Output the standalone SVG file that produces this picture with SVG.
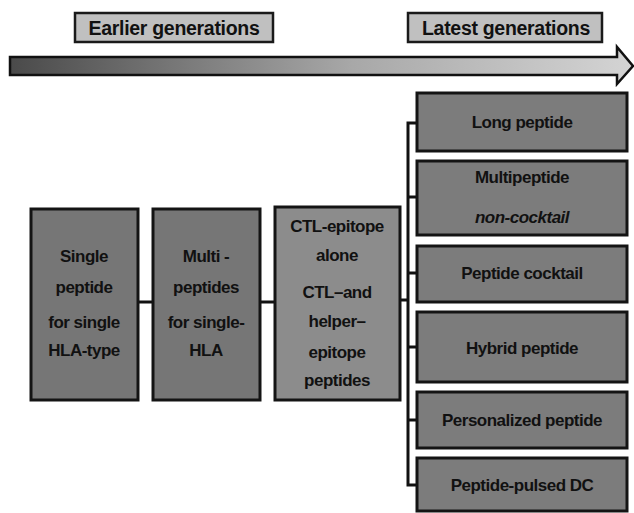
<svg xmlns="http://www.w3.org/2000/svg" width="634" height="513" viewBox="0 0 634 513">
<defs>
<linearGradient id="arrowGrad" x1="0" y1="0" x2="1" y2="0">
<stop offset="0" stop-color="#4a4a4a"/>
<stop offset="0.55" stop-color="#a8a8a8"/>
<stop offset="1" stop-color="#d4d4d4"/>
</linearGradient>
<style>
.hdr{fill:#c0c0c0;stroke:#1a1a1a;stroke-width:2.5}
.box{fill:#767676;stroke:#141414;stroke-width:3}
.box3{fill:#8c8c8c;stroke:#141414;stroke-width:3}
.rbox{fill:#7c7c7c;stroke:#141414;stroke-width:3}
text{font-family:"Liberation Sans",Arial,sans-serif;font-weight:bold;fill:#111;text-anchor:middle;dominant-baseline:central}
.ht{font-size:19.5px;letter-spacing:-0.3px}
.t{font-size:17px;letter-spacing:-0.5px}
.conn{stroke:#111;stroke-width:3;fill:none}
</style>
</defs>
<rect width="634" height="513" fill="#fff"/>
<g id="earlier"><rect class="hdr" x="75" y="13" width="198" height="29"/><text class="ht" x="174" y="28">Earlier generations</text></g>
<g id="latest"><rect class="hdr" x="408" y="13" width="194" height="29"/><text class="ht" x="506" y="28">Latest generations</text></g>
<g id="timeline"><polygon points="10,57 617,57 617,47 633,66 617,84 617,75 10,75" fill="url(#arrowGrad)" stroke="#111" stroke-width="2.5" stroke-linejoin="miter"/></g>
<g id="connectors">
<line class="conn" x1="138" y1="302" x2="153" y2="302"/>
<line class="conn" x1="260" y1="302" x2="275" y2="302"/>
<line class="conn" x1="400" y1="300" x2="408" y2="300"/>
<polyline class="conn" points="417,123 408,123 408,485 417,485"/>
<line class="conn" x1="408" y1="197" x2="417" y2="197"/>
<line class="conn" x1="408" y1="273" x2="417" y2="273"/>
<line class="conn" x1="408" y1="347" x2="417" y2="347"/>
<line class="conn" x1="408" y1="420" x2="417" y2="420"/>
</g>
<g id="n1"><rect class="box" x="31" y="209" width="107" height="191"/>
<text class="t" x="84" y="256">Single</text><text class="t" x="84" y="287">peptide</text><text class="t" x="84" y="322">for single</text><text class="t" x="84" y="350">HLA-type</text></g>
<g id="n2"><rect class="box" x="153" y="209" width="107" height="191"/>
<text class="t" x="206" y="256">Multi -</text><text class="t" x="206" y="287">peptides</text><text class="t" x="206" y="322">for single-</text><text class="t" x="206" y="350">HLA</text></g>
<g id="n3"><rect class="box3" x="275" y="207" width="125" height="193"/>
<text class="t" x="337" y="226">CTL-epitope</text><text class="t" x="337" y="255">alone</text><text class="t" x="337" y="292">CTL–and</text><text class="t" x="337" y="321">helper–</text><text class="t" x="337" y="352">epitope</text><text class="t" x="337" y="380">peptides</text></g>
<g id="r1"><rect class="rbox" x="417" y="93" width="210" height="58"/><text class="t" x="522" y="122">Long peptide</text></g>
<g id="r2"><rect class="rbox" x="417" y="161" width="210" height="74"/><text class="t" x="522" y="177">Multipeptide</text><text class="t" x="522" y="217" font-style="italic">non-cocktail</text></g>
<g id="r3"><rect class="rbox" x="417" y="246" width="210" height="56"/><text class="t" x="522" y="273">Peptide cocktail</text></g>
<g id="r4"><rect class="rbox" x="417" y="312" width="210" height="70"/><text class="t" x="522" y="348">Hybrid peptide</text></g>
<g id="r5"><rect class="rbox" x="417" y="392" width="210" height="56"/><text class="t" x="522" y="420">Personalized peptide</text></g>
<g id="r6"><rect class="rbox" x="417" y="458" width="210" height="53"/><text class="t" x="522" y="485">Peptide-pulsed DC</text></g>
</svg>
